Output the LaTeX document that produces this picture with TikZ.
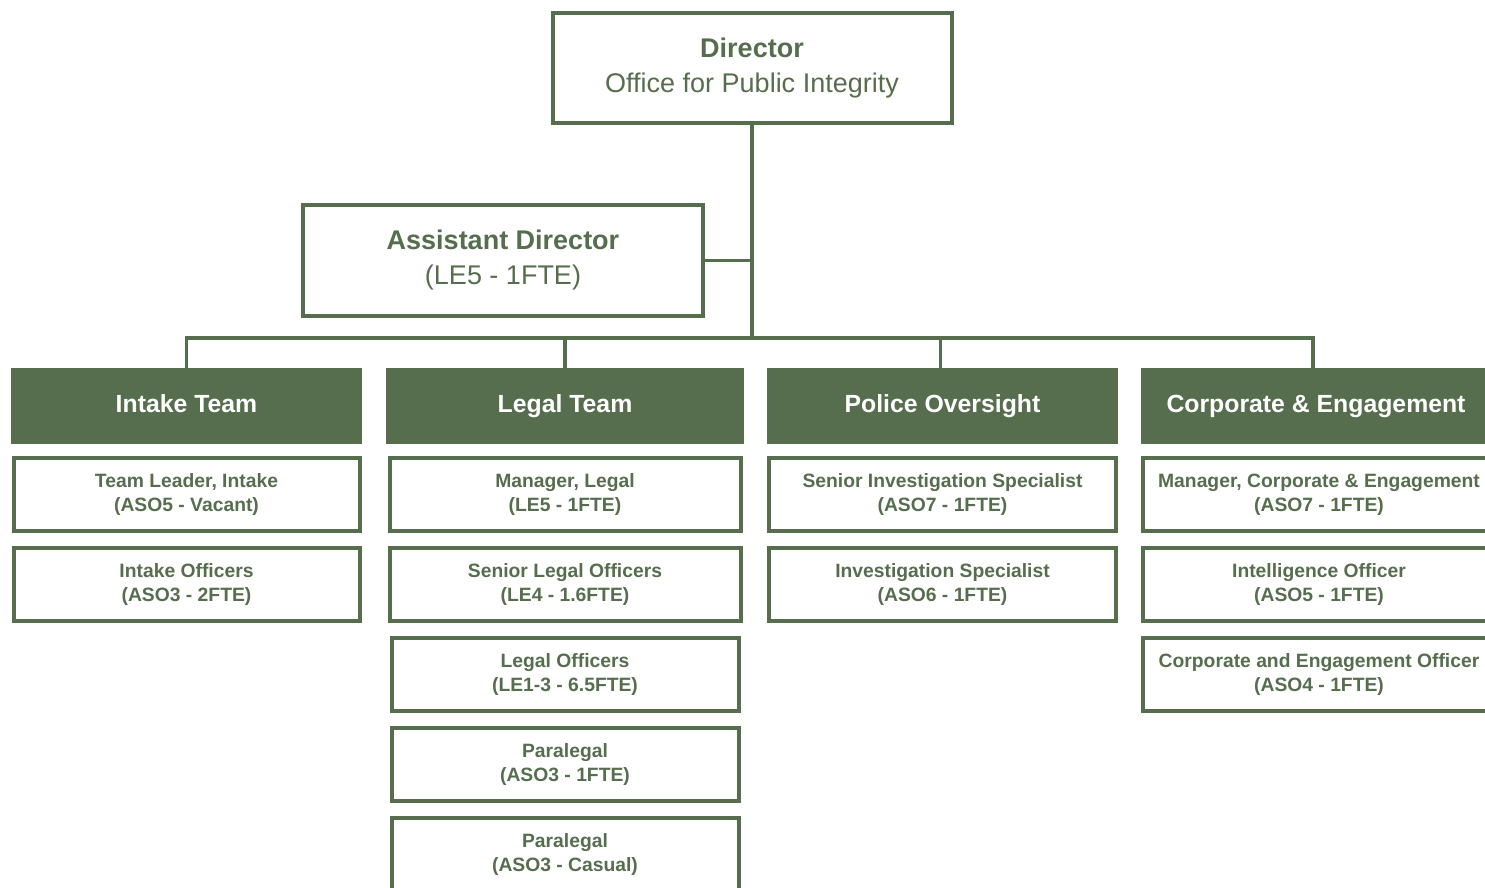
\documentclass[tikz,border=0pt]{standalone}
\usepackage{fontspec}
\setmainfont{Liberation Sans}
\usetikzlibrary{positioning}
\definecolor{opigreen}{RGB}{86,110,78}
\tikzset{
    topbox/.style={
        rectangle,
        draw=opigreen,
        line width=4pt,
        fill=white,
        text=opigreen,
        align=center,
        inner sep=0pt,
        font=\fontsize{27}{35}\selectfont,
    },
    teamhead/.style={
        rectangle,
        fill=opigreen,
        text=white,
        inner sep=0pt,
        minimum height=76pt,
        text height=18pt,
        text depth=5pt,
        font=\fontsize{24.8}{30}\selectfont\bfseries,
    },
    role/.style={
        rectangle,
        draw=opigreen,
        line width=4pt,
        fill=white,
        text=opigreen,
        align=center,
        inner sep=0pt,
        minimum height=73pt,
        font=\fontsize{19.3}{24}\selectfont\bfseries,
    },
    link/.style={
        draw=opigreen,
        line width=3.5pt,
    },
}

\begin{document}
\begin{tikzpicture}[x=1pt,y=-1pt,node distance=13pt]
      \useasboundingbox (0,0) rectangle (1485,888);
      \clip (0,0) rectangle (1485,888);

      % top of the office
      \node [topbox, minimum width=399pt, minimum height=110pt] (dir) at (752,68) {\textbf{Director}\\Office for Public Integrity};
      \node [topbox, minimum width=400pt, minimum height=111pt] (ad) at (503,260.5) {\textbf{Assistant Director}\\(LE5 - 1FTE)};
      \coordinate (bus) at (752,338);

      % team headers
      \node [teamhead, minimum width=351pt] (intake) at (186.5,406) {Intake Team};
      \node [teamhead, minimum width=358pt] (legal) at (565,406) {Legal Team};
      \node [teamhead, minimum width=351pt] (police) at (942.5,406) {Police Oversight};
      \node [teamhead, minimum width=350pt] (corp) at (1316,406) {Corporate \& Engagement};

      % intake team
      \node [role, minimum width=346pt] (intake1) [below=12pt of intake] {Team Leader, Intake\\(ASO5 - Vacant)};
      \node [role, minimum width=346pt] (intake2) [below=of intake1] {Intake Officers\\(ASO3 - 2FTE)};

      % legal team
      \node [role, minimum width=351pt] (legal1) [below=12pt of legal] {Manager, Legal\\(LE5 - 1FTE)};
      \node [role, minimum width=351pt] (legal2) [below=of legal1] {Senior Legal Officers\\(LE4 - 1.6FTE)};
      \node [role, minimum width=347pt] (legal3) [below=of legal2] {Legal Officers\\(LE1-3 - 6.5FTE)};
      \node [role, minimum width=347pt] (legal4) [below=of legal3] {Paralegal\\(ASO3 - 1FTE)};
      \node [role, minimum width=347pt] (legal5) [below=of legal4] {Paralegal\\(ASO3 - Casual)};

      % police oversight
      \node [role, minimum width=347pt] (police1) [below=12pt of police] {Senior Investigation Specialist\\(ASO7 - 1FTE)};
      \node [role, minimum width=347pt] (police2) [below=of police1] {Investigation Specialist\\(ASO6 - 1FTE)};

      % corporate & engagement
      \node [role, minimum width=352pt] (corp1) [below=12pt of corp, xshift=3pt] {Manager, Corporate \& Engagement\\(ASO7 - 1FTE)};
      \node [role, minimum width=352pt] (corp2) [below=of corp1] {Intelligence Officer\\(ASO5 - 1FTE)};
      \node [role, minimum width=352pt] (corp3) [below=of corp2] {Corporate and Engagement Officer\\(ASO4 - 1FTE)};

      % reporting lines
      \path[link] (dir.south) -- (bus);
      \path[link] (ad.east) -- (ad.east -| bus);
      \path[link] (intake.north) |- (bus) -| ([xshift=-3pt]corp.north);
      \path[link] (legal.north) -- (legal.north |- bus);
      \path[link] ([xshift=-2pt]police.north) -- ([xshift=-2pt]police.north |- bus);
\end{tikzpicture}
\end{document}
